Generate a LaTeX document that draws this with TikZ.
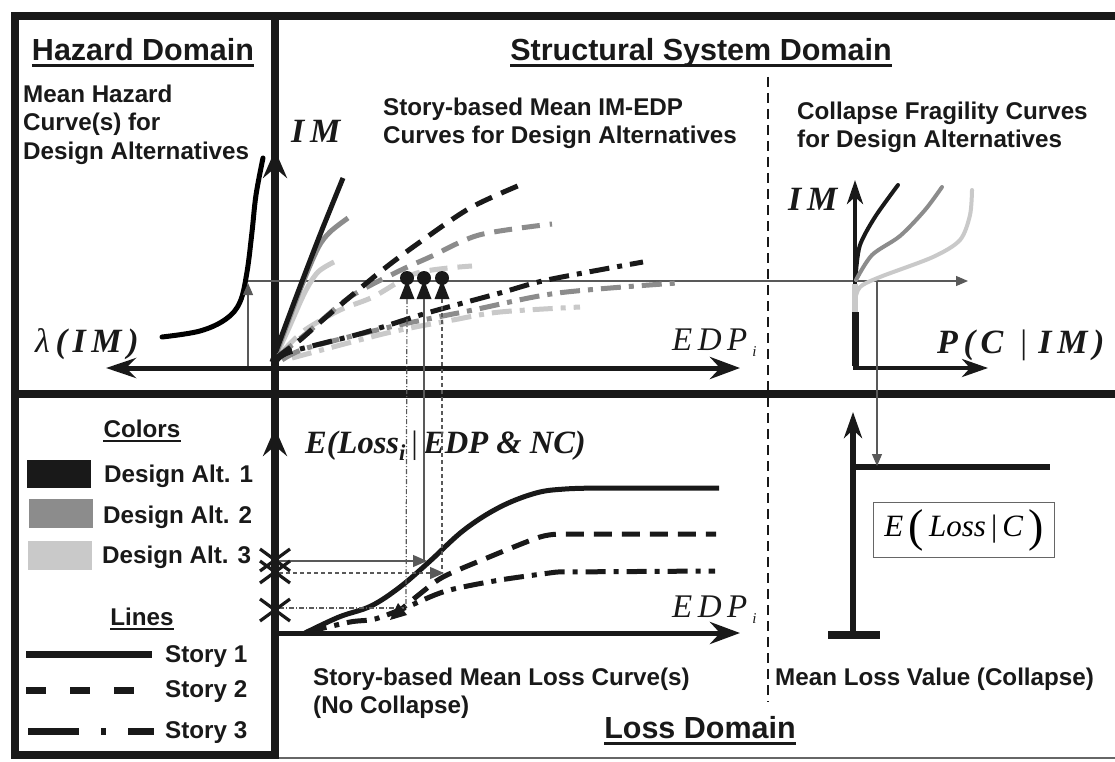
\documentclass[tikz,border=0pt]{standalone}
\usepackage{fontspec}
\setmainfont{Liberation Sans}
\newfontfamily\mserif{Liberation Serif}
\usetikzlibrary{arrows.meta}
\definecolor{ink}{gray}{0.1}
\definecolor{midg}{gray}{0.55}
\definecolor{lightg}{gray}{0.79}
\tikzset{
  frame/.style={line width=8pt, ink},
  axisline/.style={line width=5pt, ink},
  bigtip/.style={-{Stealth[length=28pt,width=24pt,inset=10pt]}},
  thintip/.style={-{Triangle[length=12pt,width=10pt]}},
  curve/.style={line width=5pt, line cap=butt},
  fcurve/.style={line width=4pt, line cap=round},
  dsh/.style={dash pattern=on 18pt off 10pt},
  ddot/.style={dash pattern=on 20pt off 8pt on 5pt off 8pt},
  title/.style={font=\fontsize{30.5}{34}\selectfont\bfseries, inner sep=0pt, ink},
  lab/.style={font=\fontsize{24.2}{28.5}\selectfont\bfseries, inner sep=0pt, ink, align=left},
  mlab/.style={font=\fontsize{34}{38}\selectfont\mserif\bfseries\itshape, inner sep=0pt, ink},
  mlabr/.style={font=\fontsize{33}{38}\selectfont\mserif\itshape, inner sep=0pt, ink},
  uline/.style={line width=3pt, ink},
  thin/.style={line width=1.2pt, black!65},
  xmark/.style={line width=3.2pt, ink},
}
\begin{document}
\begin{tikzpicture}[x=1pt,y=-1pt]
\useasboundingbox (0,0) rectangle (1115,762);
\fill[white] (0,0) rectangle (1115,762);

% ---------- frame ----------
\draw[frame] (15,16) rectangle (275,755);
\draw[frame] (15,394) -- (275,394);
\draw[frame] (271,16) -- (1115,16);
\draw[frame] (271,394) -- (1115,394);
\draw[line width=1.2pt, black!60] (279,758) -- (1115,758);
\draw[line width=1.6pt, ink, dash pattern=on 10pt off 6pt] (768,77) -- (768,702);

% ---------- titles ----------
\node[title, anchor=base] (hz) at (143,61) {Hazard Domain};
\draw[uline] ([yshift=-5pt]hz.base west) -- ([yshift=-5pt]hz.base east);
\node[title, anchor=base] (ssd) at (701,61) {Structural System Domain};
\draw[uline] ([yshift=-5pt]ssd.base west) -- ([yshift=-5pt]ssd.base east);
\node[title, anchor=base] (ld) at (700,738) {Loss Domain};
\draw[uline] ([yshift=-5pt]ld.base west) -- ([yshift=-5pt]ld.base east);

% ---------- descriptive labels ----------
\node[lab, anchor=base west] (mh1) at (23,103) {Mean Hazard};
\node[lab, anchor=base west] (mh2) at (23,131) {Curve(s) for};
\node[lab, anchor=base west] (mh3) at (23,160) {Design Alternatives};
\node[lab, anchor=base west] (ie1) at (383,116) {Story-based Mean IM-EDP};
\node[lab, anchor=base west] (ie2) at (383,144) {Curves for Design Alternatives};
\node[lab, anchor=base west] (cf1) at (797,120) {Collapse Fragility Curves};
\node[lab, anchor=base west] (cf2) at (797,148) {for Design Alternatives};
\node[lab, anchor=base west] (lc1) at (313,685) {Story-based Mean Loss Curve(s)};
\node[lab, anchor=base west] (lc2) at (313,713) {(No Collapse)};
\node[lab, anchor=base west] (ml) at (775,685) {Mean Loss Value (Collapse)};

% ---------- hazard curve & structural axes ----------
\draw[axisline, {Stealth[length=30pt,width=20pt,inset=10pt]}-{Stealth[length=30pt,width=22pt,inset=10pt]}] (106,368) -- (740,368);
\draw[axisline, bigtip] (275,372) -- (275,150);
\draw[curve, line cap=round] plot[smooth, tension=0.6] coordinates {(162,337) (200,331) (226,319) (240,302) (247,272) (252,232) (256,195) (263,158)};
\node[mlab, anchor=base west] (lam) at (35,352) {{\mdseries λ}\,(\,I\,M\,)};
\node[mlab, anchor=base west] (im1) at (291,143) {I\,M};
\node[mlabr, anchor=base west] (edp1) at (672,350) {E\,D\,P\raisebox{-6pt}{\fontsize{15}{15}\selectfont\,\,i}};

% thin IM connector
\coordinate (h0) at (248,366);
\coordinate (hR) at (968,281);
\draw[thin, thintip] (h0) -- (248,283);
\draw[thin, thintip] (248,281) -- (hR);

% ---------- IM-EDP curves ----------
% story 1 (solid)
\draw[curve, lightg] plot[smooth] coordinates {(276,356) (288,330) (305,292) (318,272) (334,262)};
\draw[curve, midg] plot[smooth] coordinates {(274,360) (300,290) (318,248) (330,232) (348,218)};
\draw[curve, ink] plot[smooth] coordinates {(272,362) (295,300) (318,240) (330,210) (343,178)};
% story 2 (dashed)
\draw[curve, lightg, dsh] plot[smooth] coordinates {(284,350) (305,330) (340,310) (373,297) (417,273) (472,266)};
\draw[curve, midg, dsh] plot[smooth] coordinates {(278,356) (307,333) (350,297) (397,272) (430,257) (479,235) (552,224)};
\draw[curve, ink, dsh] plot[smooth] coordinates {(276,358) (300,340) (325,318) (380,272) (420,242) (470,208) (520,185)};
% story 3 (dash-dot)
\draw[curve, lightg, ddot] plot[smooth] coordinates {(292,358) (387,333) (453,320) (500,312) (580,307)};
\draw[curve, midg, ddot] plot[smooth] coordinates {(282,360) (307,348) (390,327) (473,310) (558,293) (677,283)};
\draw[curve, ink, ddot] plot[smooth] coordinates {(276,362) (290,352) (363,333) (427,313) (500,293) (547,280) (643,262)};

% pins
\foreach \px/\nm in {407/pina, 424/pinb, 442/pinc}{
  \fill[ink] (\px,278) circle (7pt);
  \fill[ink] (\px,280) -- (\px-7.5,299) -- (\px+7.5,299) -- cycle;
  \coordinate (\nm) at (\px,299);
}

% ---------- fragility plot ----------
\draw[line width=4pt, ink, {Stealth[length=24pt,width=16pt,inset=7pt]}-{Stealth[length=26pt,width=18pt,inset=8pt]}] (855,180) -- (855,368) -- (988,368);
\draw[line width=7pt, ink] (855,312) -- (855,366);
\draw[line width=6pt, lightg] (855,284) -- (855,312);
\draw[fcurve, lightg] plot[smooth] coordinates {(855,300) (860,287) (880,277) (933,257) (960,240) (970,215) (972,190)};
\draw[fcurve, midg] plot[smooth] coordinates {(856,280) (872,255) (900,236) (925,210) (942,187)};
\draw[fcurve, ink] plot[smooth] coordinates {(856,272) (860,245) (875,217) (898,185)};
\node[mlab, anchor=base west] (im2) at (788,210) {I\,M};
\node[mlab, anchor=base west] (pcim) at (937,353) {P\,(\,C\,\,\,\textup{\mdseries|}\,\,I\,M\,)};

% ---------- loss domain ----------
\draw[axisline, bigtip] (275,636) -- (275,428);
\draw[axisline, -{Stealth[length=30pt,width=22pt,inset=10pt]}] (272,633) -- (740,633);
\node[mlab, anchor=base west, font=\fontsize{32.5}{38}\selectfont\mserif\bfseries\itshape] (eloss) at (305,453) {E(Loss\textsubscript{i}\,\textup{\mdseries|}\,EDP \& NC)};
\node[mlabr, anchor=base west] (edp2) at (672,617) {E\,D\,P\raisebox{-6pt}{\fontsize{15}{15}\selectfont\,\,i}};

% loss curves
\draw[curve, ink] plot[smooth, tension=0.6] coordinates {(305,633) (339,617) (371,606) (400,587) (429,562) (464,530) (500,507) (536,493) (565,489) (600,488)} -- (719,488);
\draw[curve, ink, dsh] plot[smooth] coordinates {(392,617) (421,593) (443,577) (482,560) (540,537) (565,534)} -- (716,534);
\draw[curve, ink, ddot] plot[smooth] coordinates {(307,632) (350,622) (375,619) (407,607) (446,591) (500,580) (557,572)} -- (715,571);

% connectors pins -> loss curves -> axis
\coordinate (la) at (406,608);
\coordinate (lb) at (427,561);
\coordinate (lc) at (444,573);
\draw[thin, dash pattern=on 5pt off 2pt on 1pt off 2pt] (pina) -- (406,608);
\draw[thin] (pinb) -- (424,561);
\draw[thin, dash pattern=on 4pt off 3pt] (pinc) -- (442,573);
\draw[thin, -{Triangle[length=14pt,width=12pt]}] (279,561) -- (lb);
\draw[thin, dash pattern=on 4pt off 3pt, -{Triangle[length=14pt,width=12pt]}] (279,573) -- (lc);
\draw[thin, dash pattern=on 5pt off 2pt on 1pt off 2pt] (279,608) -- (la);
\fill[ink] (390,620) -- (398,603) -- (407,615) -- cycle;

% X marks
\foreach \yy in {560,572,610}{
  \draw[xmark] (260,\yy-11) -- (290,\yy+11);
  \draw[xmark] (260,\yy+11) -- (290,\yy-11);
}

% ---------- collapse loss ----------
\draw[line width=6pt, ink, -{Stealth[length=26pt,width=18pt,inset=8pt]}] (853,637) -- (853,412);
\draw[line width=8pt, ink] (828,635) -- (880,635);
\draw[line width=6pt, ink] (850,467) -- (1050,467);
\draw[thin, thintip] (877,281) -- (877,466);
\node[draw=black!60, line width=1.2pt, minimum width=181pt, minimum height=55pt, inner sep=0pt,
      font=\fontsize{31}{36}\selectfont\mserif\itshape] (elc) at (964,530)
      {E\,\raisebox{-5pt}{\fontsize{46}{46}\selectfont\upshape (}\,Loss\,\textup{|}\,C\,\raisebox{-5pt}{\fontsize{46}{46}\selectfont\upshape )}};

% ---------- legend ----------
\node[lab, anchor=base] (col) at (142,437) {Colors};
\draw[line width=2pt, ink] ([yshift=-4pt]col.base west) -- ([yshift=-4pt]col.base east);
\fill[ink] (27,460) rectangle (91,488);
\fill[midg] (29,499) rectangle (93,528);
\fill[lightg] (28,541) rectangle (92,570);
\node[lab, anchor=base west] (d1) at (104,482) {Design Alt. 1};
\node[lab, anchor=base west] (d2) at (103,523) {Design Alt. 2};
\node[lab, anchor=base west] (d3) at (102,563) {Design Alt. 3};
\node[lab, anchor=base] (lin) at (142,625) {Lines};
\draw[line width=2pt, ink] ([yshift=-4pt]lin.base west) -- ([yshift=-4pt]lin.base east);
\draw[line width=7pt, ink] (26,654) -- (152,654);
\draw[line width=7pt, ink, dash pattern=on 20pt off 24pt] (26,690) -- (152,690);
\draw[line width=7pt, ink, dash pattern=on 51pt off 22pt on 5pt off 22pt] (28,731) -- (154,731);
\node[lab, anchor=base west] (s1) at (165,662) {Story 1};
\node[lab, anchor=base west] (s2) at (165,697) {Story 2};
\node[lab, anchor=base west] (s3) at (165,738) {Story 3};
\end{tikzpicture}
\end{document}
